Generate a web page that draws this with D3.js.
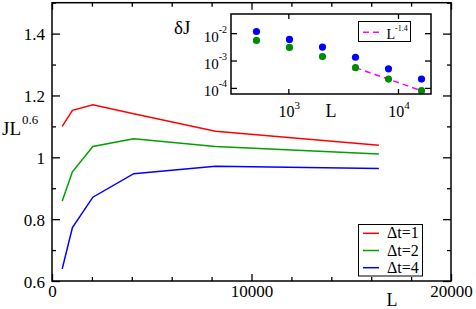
<!DOCTYPE html>
<html>
<head>
<meta charset="utf-8">
<script src="https://d3js.org/d3.v7.min.js"></script>
<style>
	body { margin: 0; background: #fff; }
	svg text { font-family: "Liberation Serif", "Times New Roman", serif; fill: #000; }
	.frame { fill: none; stroke: #000; stroke-width: 1.5px; }
	.axis path { display: none; }
	.axis line { stroke: #000; stroke-width: 1.3px; }
	.line { fill: none; stroke-width: 1.5px; }
</style>
</head>
<body>
<svg width="476" height="309"></svg>
<script>
// main plot data: J L^0.6 vs L
var sizes = [512, 1024, 2048, 4096, 8192, 16384];
var dt1 = [1.100, 1.152, 1.170, 1.141, 1.084, 1.039];
var dt2 = [0.859, 0.953, 1.035, 1.060, 1.035, 1.011];
var dt4 = [0.639, 0.773, 0.871, 0.947, 0.971, 0.964];
var seriesNames = ["\u0394t=1", "\u0394t=2", "\u0394t=4"];
var seriesColors = ["#ff0000", "#00a000", "#0000ff"];

// inset data: deltaJ vs L
var dJblue = [0.0115, 0.0059, 0.0031, 0.00132, 0.00050, 0.00021];
var dJgreen = [0.0054, 0.0030, 0.0014, 0.00055, 0.00021, 0.0000795];
var fitL = [4096, 16384];
var fitVals = [0.00055, 0.0000790];

var xMajor = [0, 10000, 20000];
var xMinor = [2000, 4000, 6000, 8000, 12000, 14000, 16000, 18000];
var yMajor = [0.6, 0.8, 1.0, 1.2, 1.4];
var yMinor = [0.7, 0.9, 1.1, 1.3, 1.5];
var insetX = [1000, 10000];
var insetY = [1e-2, 1e-3, 1e-4];

var svg = d3.select("svg");

var x = d3.scaleLinear().domain([0, 20000]).range([52, 451]);
var y = d3.scaleLinear().domain([0.6, 1.5]).range([281, 2.7]);

function ticks(axis, tr) {
	var g = svg.append("g").attr("class", "axis").attr("transform", tr).call(axis);
	g.attr("font-family", null).attr("font-size", 17);
	return g;
}
// bottom / top
ticks(d3.axisBottom(x).tickValues(xMajor).tickSize(-7).tickPadding(4).tickFormat(d3.format("d")), "translate(0,281)");
ticks(d3.axisBottom(x).tickValues(xMinor).tickSize(-4).tickFormat(""), "translate(0,281)");
ticks(d3.axisTop(x).tickValues(xMajor).tickSize(-7).tickFormat(""), "translate(0,2.7)");
ticks(d3.axisTop(x).tickValues(xMinor).tickSize(-4).tickFormat(""), "translate(0,2.7)");
// left / right
ticks(d3.axisLeft(y).tickValues(yMajor).tickSize(-8).tickPadding(7).tickFormat(function(d){ return d === 1 ? "1" : d3.format(".1f")(d); }), "translate(52,0)")
	.selectAll("text").attr("dy", "0.36em");
ticks(d3.axisLeft(y).tickValues(yMinor).tickSize(-4).tickFormat(""), "translate(52,0)");
ticks(d3.axisRight(y).tickValues(yMajor).tickSize(-8).tickFormat(""), "translate(451,0)");
ticks(d3.axisRight(y).tickValues(yMinor).tickSize(-4).tickFormat(""), "translate(451,0)");

svg.append("rect").attr("class", "frame")
	.attr("x", x(0)).attr("y", y(1.5))
	.attr("width", x(20000) - x(0)).attr("height", y(0.6) - y(1.5));

// lines
var line = d3.line().x(function(d){ return x(d[0]); }).y(function(d){ return y(d[1]); });
[dt1, dt2, dt4].forEach(function(vals, i) {
	svg.append("path").attr("class", "line")
		.attr("stroke", seriesColors[i])
		.attr("d", line(d3.zip(sizes, vals)));
});

// axis titles
var yt = svg.append("text").attr("x", 2).attr("y", 135).attr("font-size", 19).text("JL");
yt.append("tspan").attr("dy", -11).attr("dx", 1).attr("font-size", 13).text("0.6");
svg.append("text").attr("x", 392).attr("y", 306).attr("text-anchor", "middle").attr("font-size", 18).text("L");

// legend
var leg = svg.append("g");
leg.append("rect").attr("x", 358.5).attr("y", 224.5).attr("width", 64).attr("height", 51.5)
	.attr("fill", "#fff").attr("stroke", "#000").attr("stroke-width", 1);
seriesNames.forEach(function(n, i) {
	var yy = 233.3 + i * 17.2;
	leg.append("line").attr("x1", 363).attr("x2", 379).attr("y1", yy).attr("y2", yy)
		.attr("stroke", seriesColors[i]).attr("stroke-width", 1.5);
	leg.append("text").attr("x", 387).attr("y", yy + 5).attr("font-size", 16).text(n);
});

// ---- inset ----
var ix = d3.scaleLog().domain([300, 20000]).range([231, 431]);
var iy = d3.scaleLog().domain([6e-5, 5e-2]).range([94, 14]);

svg.append("rect").attr("x", 231).attr("y", 14).attr("width", 200).attr("height", 80)
	.attr("fill", "#fff");

ticks(d3.axisBottom(ix).tickValues(insetX).tickSize(-5).tickFormat(""), "translate(0,94)");
ticks(d3.axisTop(ix).tickValues(insetX).tickSize(-5).tickFormat(""), "translate(0,14)");
ticks(d3.axisLeft(iy).tickValues(insetY).tickSize(-6).tickFormat(""), "translate(231,0)");
ticks(d3.axisRight(iy).tickValues(insetY).tickSize(-6).tickFormat(""), "translate(431,0)");

insetX.forEach(function(v) {
	var t = svg.append("text").attr("x", ix(v) + 1).attr("y", 116.5).attr("text-anchor", "middle").attr("font-size", 16).text("10");
	t.append("tspan").attr("dy", -8).attr("font-size", 11).text(Math.round(Math.log10(v)));
});
insetY.forEach(function(v) {
	var t = svg.append("text").attr("x", 227).attr("y", iy(v) + 8.5).attr("text-anchor", "end").attr("font-size", 15).text("10");
	t.append("tspan").attr("dy", -9).attr("font-size", 10).text(Math.round(Math.log10(v)));
});

svg.append("text").attr("x", 174).attr("y", 33.5).attr("font-size", 19).text("\u03b4J");
svg.append("text").attr("x", 331).attr("y", 116.5).attr("text-anchor", "middle").attr("font-size", 18).text("L");

svg.append("path").attr("fill", "none").attr("stroke", "#ff00ff").attr("stroke-width", 1.5)
	.attr("stroke-dasharray", "6,4")
	.attr("d", d3.line().x(function(d){ return ix(d[0]); }).y(function(d){ return iy(d[1]); })(d3.zip(fitL, fitVals)));

[[dJblue, "#0000ff"], [dJgreen, "#008c00"]].forEach(function(s) {
	svg.append("g").selectAll("circle").data(d3.zip(sizes, s[0])).enter().append("circle")
		.attr("cx", function(d){ return ix(d[0]); })
		.attr("cy", function(d){ return iy(d[1]); })
		.attr("r", 3.6).attr("fill", s[1]);
});

svg.append("rect").attr("class", "frame").attr("x", 231).attr("y", 14).attr("width", 200).attr("height", 80);

// inset legend
svg.append("rect").attr("x", 358.5).attr("y", 21.5).attr("width", 52).attr("height", 20)
	.attr("fill", "#fff").attr("stroke", "#000").attr("stroke-width", 1);
svg.append("line").attr("x1", 363).attr("x2", 380).attr("y1", 32.3).attr("y2", 32.3)
	.attr("stroke", "#ff00ff").attr("stroke-width", 1.5).attr("stroke-dasharray", "6,4");
var lt = svg.append("text").attr("x", 386.5).attr("y", 38.5).attr("font-size", 14).text("L");
lt.append("tspan").attr("dy", -8).attr("font-size", 8).text("-1.4");
</script>
</body>
</html>
